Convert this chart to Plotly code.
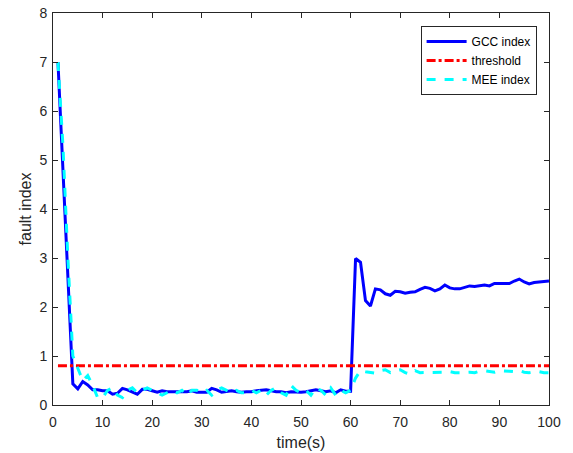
import plotly.graph_objects as go

time_s = list(range(1, 101))

gcc_index = [
    7.00, 4.80, 2.60, 0.43, 0.33, 0.48, 0.41, 0.31, 0.31, 0.29,
    0.29, 0.22, 0.24, 0.34, 0.31, 0.27, 0.22, 0.32, 0.32, 0.29,
    0.26, 0.29, 0.27, 0.27, 0.27, 0.27, 0.27, 0.29, 0.26, 0.26,
    0.26, 0.34, 0.31, 0.26, 0.27, 0.29, 0.27, 0.26, 0.27, 0.27,
    0.29, 0.30, 0.31, 0.29, 0.27, 0.27, 0.25, 0.27, 0.26, 0.26,
    0.27, 0.29, 0.31, 0.29, 0.27, 0.29, 0.25, 0.31, 0.28, 0.28,
    2.99, 2.91, 2.13, 2.02, 2.37, 2.35, 2.27, 2.24, 2.32, 2.31,
    2.28, 2.30, 2.31, 2.36, 2.40, 2.38, 2.33, 2.37, 2.45, 2.39,
    2.37, 2.37, 2.40, 2.43, 2.42, 2.44, 2.45, 2.43, 2.48, 2.48,
    2.48, 2.48, 2.53, 2.57, 2.51, 2.47, 2.50, 2.51, 2.51, 2.53,
]

mee_index = [
    7.00, 5.30, 3.00, 1.00, 0.75, 0.50, 0.60, 0.40, 0.15, 0.15,
    0.30, 0.35, 0.20, 0.15, 0.30, 0.35, 0.25, 0.30, 0.35, 0.30,
    0.25, 0.20, 0.25, 0.30, 0.25, 0.30, 0.20, 0.30, 0.30, 0.25,
    0.30, 0.20, 0.30, 0.35, 0.30, 0.25, 0.30, 0.25, 0.25, 0.30,
    0.25, 0.30, 0.20, 0.30, 0.35, 0.25, 0.20, 0.40, 0.30, 0.25,
    0.30, 0.20, 0.35, 0.30, 0.20, 0.35, 0.20, 0.30, 0.25, 0.30,
    0.55, 0.70, 0.68, 0.66, 0.65, 0.70, 0.72, 0.66, 0.70, 0.72,
    0.66, 0.63, 0.70, 0.66, 0.66, 0.67, 0.67, 0.66, 0.67, 0.68,
    0.66, 0.66, 0.67, 0.67, 0.66, 0.69, 0.70, 0.68, 0.67, 0.70,
    0.70, 0.69, 0.68, 0.70, 0.67, 0.66, 0.68, 0.68, 0.66, 0.66,
]

threshold = 0.8

fig = go.Figure()
fig.add_trace(go.Scatter(x=time_s, y=gcc_index, mode="lines", name="GCC index",
                         line=dict(color="#0000ff", width=3)))
fig.add_trace(go.Scatter(x=time_s, y=[threshold] * len(time_s), mode="lines", name="threshold",
                         line=dict(color="#ff0000", width=3, dash="dashdot")))
fig.add_trace(go.Scatter(x=time_s, y=mee_index, mode="lines", name="MEE index",
                         line=dict(color="#00ffff", width=3, dash="dash")))

axis_style = dict(showline=True, linecolor="#262626", linewidth=1, mirror="ticks",
                  ticks="inside", ticklen=5, tickcolor="#262626", showgrid=False,
                  zeroline=False, automargin=False, tickfont=dict(size=14, color="#262626"))

fig.update_layout(
    width=573, height=453,
    margin=dict(l=53, r=24, t=13, b=48),
    paper_bgcolor="white", plot_bgcolor="white",
    font=dict(family="Liberation Sans, Arial, sans-serif", color="#262626"),
    xaxis=dict(range=[0, 100], dtick=10, ticklabelstandoff=4,
               title=dict(text="time(s)", font=dict(size=16), standoff=8), **axis_style),
    yaxis=dict(range=[0, 8], dtick=1, ticklabelstandoff=2,
               title=dict(text="fault index", font=dict(size=16), standoff=3), **axis_style),
    legend=dict(x=0.975, y=0.967, xanchor="right", yanchor="top", bgcolor="white",
                bordercolor="#262626", borderwidth=1, font=dict(size=12, color="black"),
                tracegroupgap=0, itemwidth=40),
    showlegend=True,
)

# drop the browser's default 8px body margin so the figure sits at the page corner
fig.write_html("out.html", config={"displayModeBar": False},
               post_script="document.body.style.margin = '0';")
